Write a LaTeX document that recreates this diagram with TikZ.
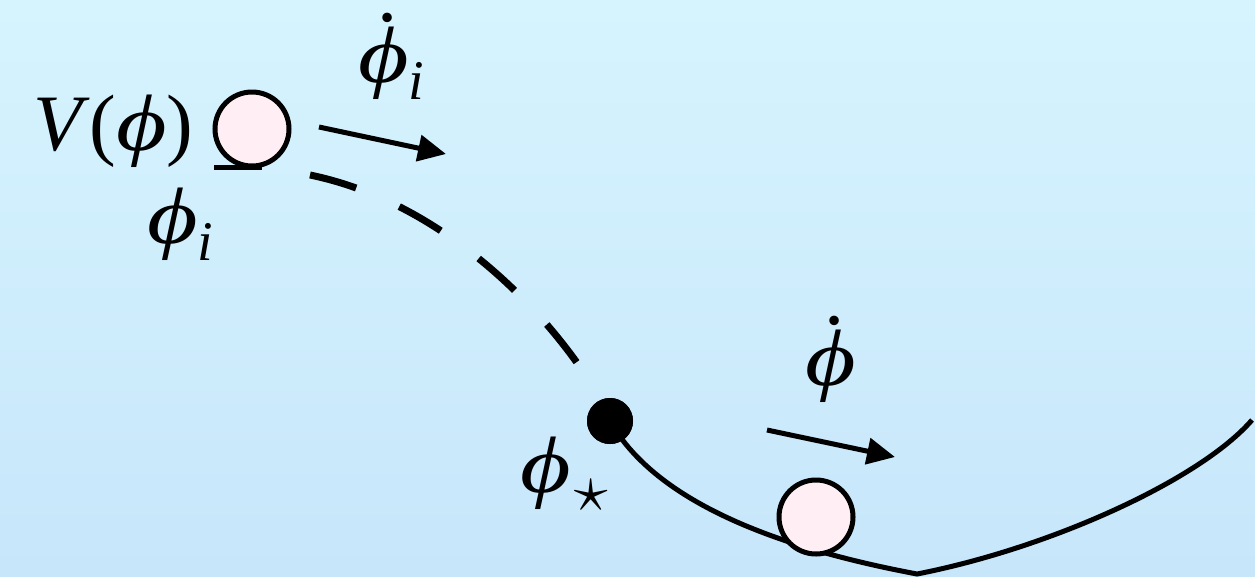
\RequirePackage{fix-cm}
\documentclass[tikz,border=0pt]{standalone}
\usepackage{fontspec}
\setmainfont{Liberation Serif}
\newfontfamily\phifont{Liberation Serif}[FakeStretch=1.22]
\usetikzlibrary{arrows.meta}
\definecolor{bgtop}{HTML}{D6F4FE}
\definecolor{bgbot}{HTML}{C7E6FA}
\definecolor{ballpink}{HTML}{FFEFF5}
\newcommand\phig{{\phifont\itshape ϕ}}
\newcommand\lowsub[1]{\raisebox{-17pt}{\fontsize{56}{56}\selectfont\itshape #1}}
\newcommand\starsub{\hspace{4pt}\raisebox{-19pt}{\fontsize{68}{68}\selectfont$\star$}}
\newcommand\dotphi{\makebox[0pt][l]{\hspace{21pt}\raisebox{61pt}{\itshape .}}\phig}
\tikzset{
  ball/.style={circle, draw=black, line width=5pt, fill=ballpink, minimum size=74pt, inner sep=0pt},
  blackdot/.style={circle, fill=black, minimum size=46pt, inner sep=0pt},
  lbl/.style={inner sep=0pt, anchor=base west, font=\fontsize{80}{80}\selectfont},
  curve/.style={line width=5pt, line cap=butt},
  dashcurve/.style={line width=7pt, dash pattern=on 48pt off 47pt},
  vel/.style={line width=5pt, -{Triangle[length=28pt,width=26pt]}},
}
\begin{document}
\begin{tikzpicture}[x=1pt, y=-1pt]
  \useasboundingbox (0,0) rectangle (1255,576);
  \shade[top color=bgtop, bottom color=bgbot] (0,0) rectangle (1255,576);

  % labels
  \node[lbl] (V) at (33,150) {\textit{V}(\phig)};
  \node[lbl] (phii) at (147,243) {\phig\lowsub{i}};
  \node[lbl] (phidoti) at (358,82) {\dotphi\lowsub{i}};
  \node[lbl] (phidot) at (805,385) {\dotphi};
  \node[lbl] (phistar) at (520,492) {\phig\starsub};

  % ground under first ball
  \coordinate (g1) at (214,167);
  \coordinate (g2) at (262,167);
  \draw[curve] (g1) -- (g2);

  % curves
  \coordinate (dstart) at (310,175);
  \node[blackdot] (star) at (610,421) {};
  \coordinate (bottom) at (917,574);
  \coordinate (rend) at (1252,420);
  \draw[dashcurve] (dstart) .. controls (480,210) and (595,375) .. (star.center);
  \node[blackdot] at (star.center) {};
  \draw[curve] (star.center) .. controls (660,510) and (800,552) .. (bottom)
                .. controls (1050,548) and (1200,480) .. (rend);

  % balls
  \node[ball] (ball1) at (252,129) {};
  \node[ball] (ball2) at (816,517) {};

  % velocity arrows
  \coordinate (a1s) at (319,127);
  \coordinate (a1e) at (446,154);
  \coordinate (a2s) at (767,430);
  \coordinate (a2e) at (895,457);
  \draw[vel] (a1s) -- (a1e);
  \draw[vel] (a2s) -- (a2e);
\end{tikzpicture}
\end{document}
